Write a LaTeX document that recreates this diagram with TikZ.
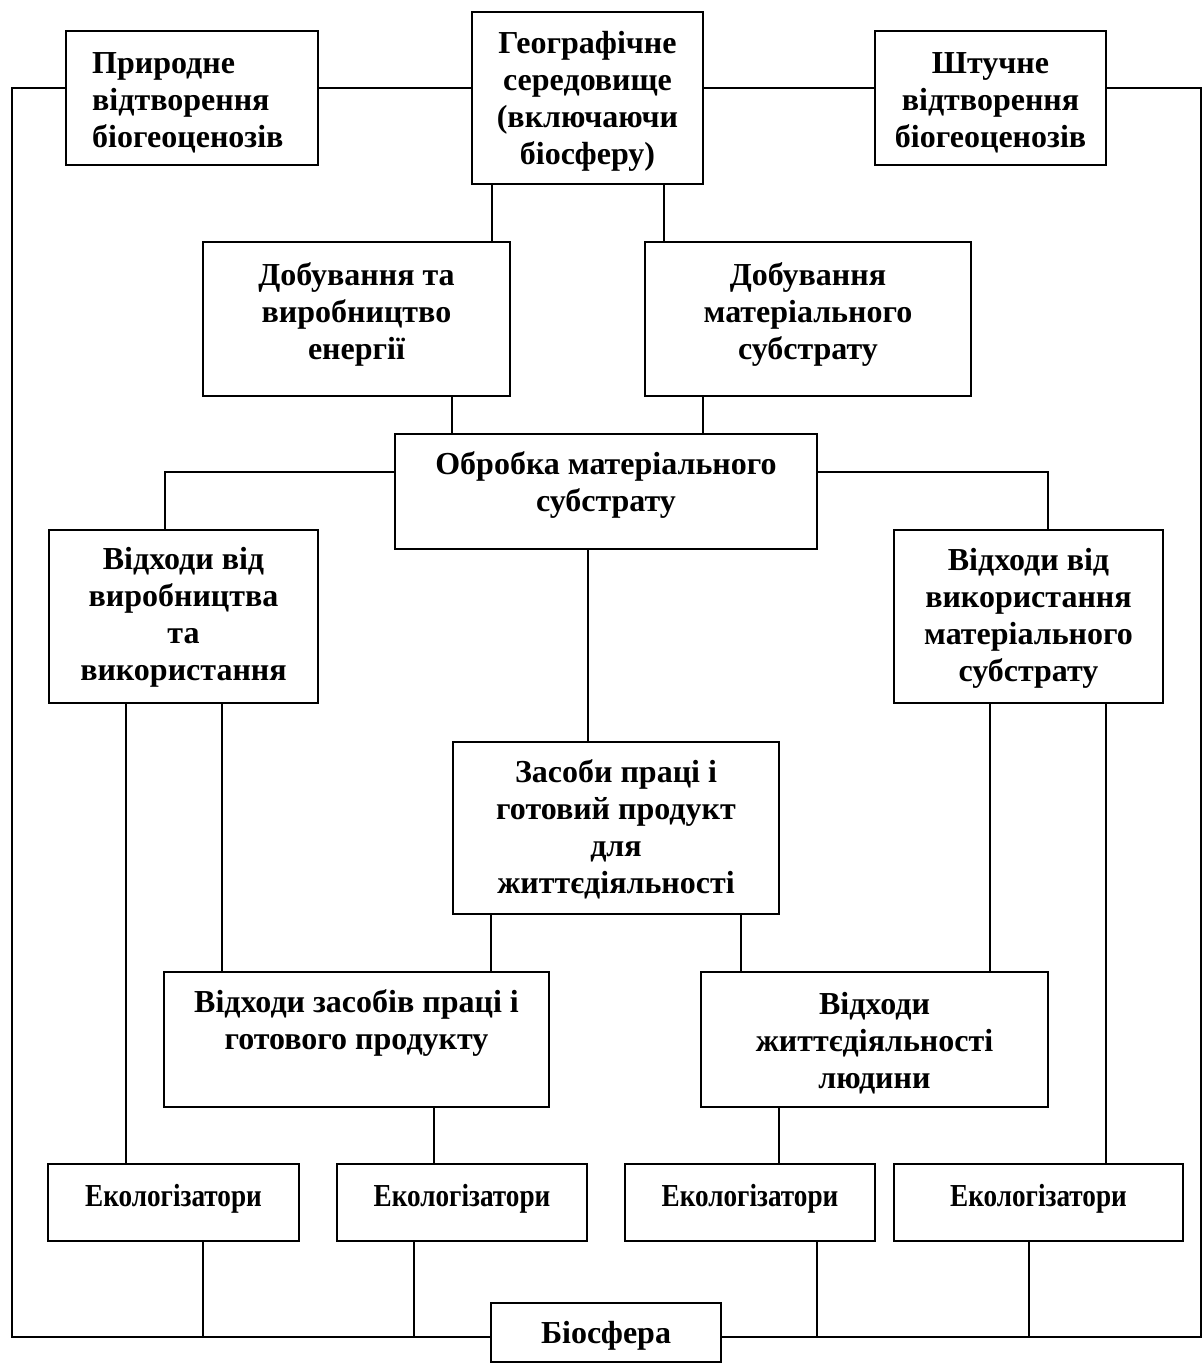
\documentclass[tikz,border=0pt]{standalone}
\usepackage{fontspec}
\setmainfont{Liberation Serif}
\begin{document}
\begin{tikzpicture}[x=1pt,y=-1pt,
  box/.style={draw, line width=2.2pt, inner sep=0pt},
  conn/.style={line width=1.8pt},
  lbl/.style={font=\bfseries\fontsize{32}{37}\selectfont, align=center, inner sep=0pt, anchor=north},
  lbll/.style={font=\bfseries\fontsize{32}{37}\selectfont, align=left, inner sep=0pt, anchor=north west},
  ekotxt/.style={font=\bfseries\fontsize{32}{37}\selectfont, inner sep=0pt, anchor=base}]
\fill[white] (0,0) rectangle (1203,1365);
\useasboundingbox (0,0) rectangle (1203,1365);
% boxes
\node[box, minimum width=252, minimum height=134] (pryr) at (192,98) {};
\node[box, minimum width=231, minimum height=172] (geo) at (587.5,98) {};
\node[box, minimum width=231, minimum height=134] (shtuch) at (990.5,98) {};
\node[box, minimum width=307, minimum height=154] (dob1) at (356.5,319) {};
\node[box, minimum width=326, minimum height=154] (dob2) at (808,319) {};
\node[box, minimum width=422, minimum height=115] (obr) at (606,491.5) {};
\node[box, minimum width=269, minimum height=173] (vid1) at (183.5,616.5) {};
\node[box, minimum width=269, minimum height=173] (vid2) at (1028.5,616.5) {};
\node[box, minimum width=326, minimum height=172] (zas) at (616,828) {};
\node[box, minimum width=385, minimum height=135] (vidz) at (356.5,1039.5) {};
\node[box, minimum width=347, minimum height=135] (vidzh) at (874.5,1039.5) {};
\node[box, minimum width=251, minimum height=77] (eko1) at (173.5,1202.5) {};
\node[box, minimum width=250, minimum height=77] (eko2) at (462,1202.5) {};
\node[box, minimum width=250, minimum height=77] (eko3) at (750,1202.5) {};
\node[box, minimum width=289, minimum height=77] (eko4) at (1038.5,1202.5) {};
\node[box, minimum width=230, minimum height=59] (bio) at (606,1332.5) {};
% texts (first baseline = y given, minus strut of 32)
\node[lbll] at (92,73-32) {\rule{0pt}{32pt}Природне\\відтворення\\біогеоценозів};
\node[lbl] at (587.5,53-32) {\rule{0pt}{32pt}Географічне\\середовище\\(включаючи\\біосферу)};
\node[lbl] at (990.5,73-32) {\rule{0pt}{32pt}Штучне\\відтворення\\біогеоценозів};
\node[lbl] at (356.5,285-32) {\rule{0pt}{32pt}Добування та\\виробництво\\енергії};
\node[lbl] at (808,285-32) {\rule{0pt}{32pt}Добування\\матеріального\\субстрату};
\node[lbl] at (606,474-32) {\rule{0pt}{32pt}Обробка матеріального\\субстрату};
\node[lbl] at (183.5,569-32) {\rule{0pt}{32pt}Відходи від\\виробництва\\та\\використання};
\node[lbl] at (1028.5,570-32) {\rule{0pt}{32pt}Відходи від\\використання\\матеріального\\субстрату};
\node[lbl] at (616,782-32) {\rule{0pt}{32pt}Засоби праці і\\готовий продукт\\для\\життєдіяльності};
\node[lbl] at (356.5,1012-32) {\rule{0pt}{32pt}Відходи засобів праці і\\готового продукту};
\node[lbl] at (874.5,1014-32) {\rule{0pt}{32pt}Відходи\\життєдіяльності\\людини};
\node[ekotxt] at (173.5,1206) {\scalebox{0.85}[1]{Екологізатори}};
\node[ekotxt] at (462,1206) {\scalebox{0.85}[1]{Екологізатори}};
\node[ekotxt] at (750,1206) {\scalebox{0.85}[1]{Екологізатори}};
\node[ekotxt] at (1038.5,1206) {\scalebox{0.85}[1]{Екологізатори}};
\node[ekotxt] at (606,1343) {Біосфера};
% frame coordinates
\coordinate (LT) at (12,88);
\coordinate (LB) at (12,1337);
\coordinate (RT) at (1201,88);
\coordinate (RB) at (1201,1337);
% outer connectors
\draw[conn] (pryr.west |- LT) -- (LT) -- (LB) -- (bio.west |- LB);
\draw[conn] (pryr.east |- LT) -- (geo.west |- LT);
\draw[conn] (geo.east |- RT) -- (shtuch.west |- RT);
\draw[conn] (shtuch.east |- RT) -- (RT) -- (RB) -- (bio.east |- RB);
% vertical connectors
\draw[conn] (geo.south -| 492,0) -- (dob1.north -| 492,0);
\draw[conn] (geo.south -| 664,0) -- (dob2.north -| 664,0);
\draw[conn] (dob1.south -| 452,0) -- (obr.north -| 452,0);
\draw[conn] (dob2.south -| 703,0) -- (obr.north -| 703,0);
\draw[conn] (obr.west |- 0,472) -| (vid1.north -| 165,0);
\draw[conn] (obr.east |- 0,472) -| (vid2.north -| 1048,0);
\draw[conn] (obr.south -| 588,0) -- (zas.north -| 588,0);
\draw[conn] (zas.south -| 491,0) -- (vidz.north -| 491,0);
\draw[conn] (zas.south -| 741,0) -- (vidzh.north -| 741,0);
\draw[conn] (vid1.south -| 126,0) -- (eko1.north -| 126,0);
\draw[conn] (vid1.south -| 222,0) -- (vidz.north -| 222,0);
\draw[conn] (vid2.south -| 990,0) -- (vidzh.north -| 990,0);
\draw[conn] (vid2.south -| 1106,0) -- (eko4.north -| 1106,0);
\draw[conn] (vidz.south -| 434,0) -- (eko2.north -| 434,0);
\draw[conn] (vidzh.south -| 779,0) -- (eko3.north -| 779,0);
\draw[conn] (eko1.south -| 203,0) -- (LB -| 203,0);
\draw[conn] (eko2.south -| 414,0) -- (LB -| 414,0);
\draw[conn] (eko3.south -| 817,0) -- (LB -| 817,0);
\draw[conn] (eko4.south -| 1029,0) -- (LB -| 1029,0);
\end{tikzpicture}
\end{document}
